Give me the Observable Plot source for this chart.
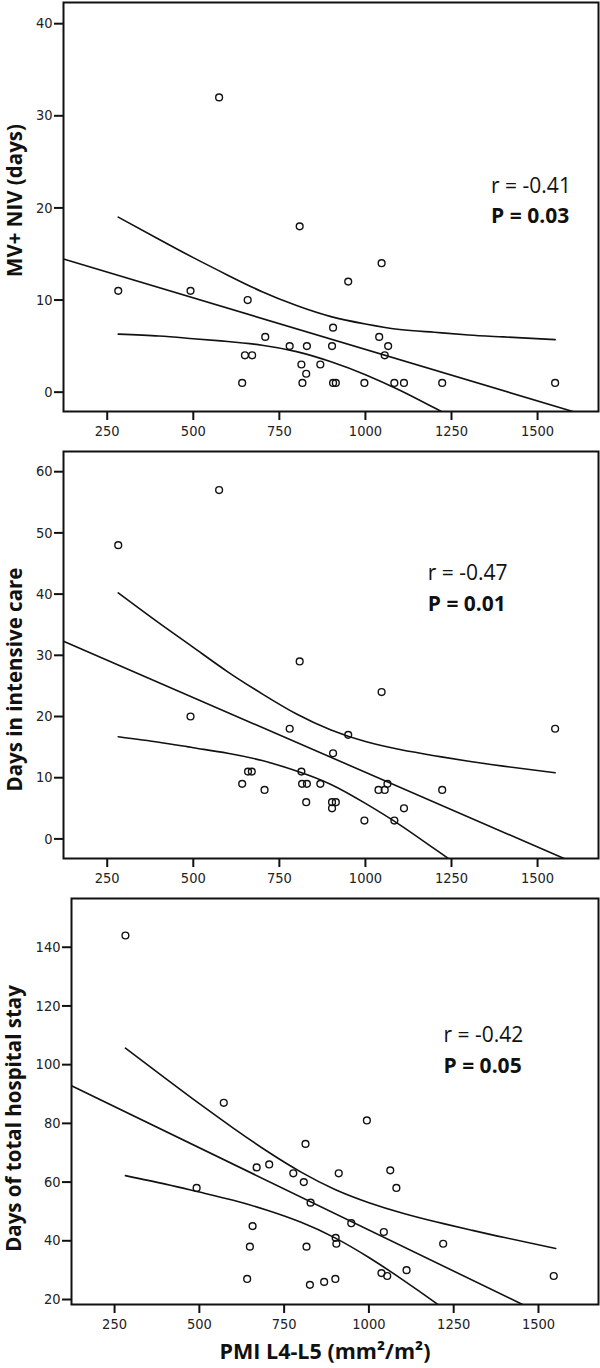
<!DOCTYPE html>
<html>
<head>
<meta charset="utf-8">
<script src="https://cdn.jsdelivr.net/npm/d3@7"></script>
<script src="https://cdn.jsdelivr.net/npm/@observablehq/plot@0.6"></script>
<style>
  html, body { margin: 0; padding: 0; background: #fff; }
  #chart svg { display: block; }
</style>
</head>
<body>
<div id="chart"></div>
<script>
// ---- shared ----
const xTicks = [250, 500, 750, 1000, 1250, 1500];
const ciX = [282, 400, 500, 600, 700, 800, 900, 1000, 1100, 1200, 1300, 1400, 1551];

// ---- Panel 1: MV + NIV (days) ----
const mvX = [282, 492, 575, 658, 709, 780, 650, 671, 642, 809, 1047, 950, 906, 1040, 830, 903, 1066, 1056, 814, 869, 828, 817, 906, 914, 997, 1084, 1112, 1223, 1551];
const mvY = [11, 11, 32, 10, 6, 5, 4, 4, 1, 18, 14, 12, 7, 6, 5, 5, 5, 4, 3, 3, 2, 1, 1, 1, 1, 1, 1, 1, 1];
const mvFitX = [123, 1605];
const mvFitY = [14.45, -2.13];
const mvUpper = [19.0, 16.6, 14.6, 12.7, 10.9, 9.4, 8.2, 7.4, 6.8, 6.5, 6.2, 6.0, 5.7];
const mvLower = [6.3, 6.1, 5.8, 5.5, 5.1, 4.4, 3.3, 1.9, 0.2, -1.7, -3.6];
const mvTicks = [0, 10, 20, 30, 40];

// ---- Panel 2: Days in intensive care ----
const icuX = [282, 575, 492, 780, 809, 659, 670, 642, 707, 1047, 950, 906, 814, 816, 830, 869, 1064, 1038, 1056, 1223, 828, 903, 914, 903, 1112, 997, 1084, 1551];
const icuY = [48, 57, 20, 18, 29, 11, 11, 9, 8, 24, 17, 14, 11, 9, 9, 9, 9, 8, 8, 8, 6, 6, 6, 5, 5, 3, 3, 18];
const icuFitX = [123, 1577];
const icuFitY = [32.3, -3.2];
const icuUpper = [40.2, 35.3, 31.3, 27.3, 23.7, 20.4, 17.8, 15.9, 14.6, 13.6, 12.7, 11.9, 10.8];
const icuLower = [16.7, 15.8, 14.9, 14.0, 12.8, 11.1, 8.9, 5.8, 2.3, -1.6, -5.5];
const icuTicks = [0, 10, 20, 30, 40, 50, 60];

// ---- Panel 3: Days of total hospital stay ----
const hospX = [282, 572, 492, 669, 706, 777, 657, 649, 641, 813, 994, 808, 911, 1063, 1081, 828, 948, 1044, 902, 904, 816, 1219, 1111, 1037, 1054, 826, 868, 901, 1545];
const hospY = [144, 87, 58, 65, 66, 63, 45, 38, 27, 73, 81, 60, 63, 64, 58, 53, 46, 43, 41, 39, 38, 39, 30, 29, 28, 25, 26, 27, 28];
const hospFitX = [123, 1453];
const hospFitY = [92.8, 18.3];
const hospUpper = [105.6, 95.3, 86.7, 78.4, 70.5, 63.4, 57.5, 53.0, 49.4, 46.4, 43.7, 41.1, 37.4];
const hospLower = [62.2, 59.3, 56.6, 53.8, 50.4, 46.3, 41.0, 34.3, 26.7, 18.6, 10.1];
const hospTicks = [20, 40, 60, 80, 100, 120, 140];

// ---- texts ----
const yTitles = ["MV+ NIV (days)", "Days in intensive care", "Days of total hospital stay"];
const rTexts = ["r = -0.41", "r = -0.47", "r = -0.42"];
const pTexts = ["P = 0.03", "P = 0.01", "P = 0.05"];
const xTitle = "PMI L4-L5 (mm²/m²)";

const tickFont = "'DejaVu Sans Condensed', 'Liberation Sans Narrow', sans-serif";
const textFont = "'Open Sans', 'Noto Sans', sans-serif";
const ink = "#111";
const fmt = d3.format("d");

function zip(xs, ys) { return ys.map((y, i) => ({x: xs[i], y})); }

function panel(o) {
  const marks = [
    Plot.axisX({ticks: xTicks, tickFormat: fmt, tickSize: 9, tickPadding: 5, strokeWidth: 2, stroke: ink, fill: "#222", fontSize: 14.5, fontFamily: tickFont, label: null}),
    Plot.axisY({ticks: o.yTicks, tickFormat: fmt, tickSize: 9, tickPadding: 2, strokeWidth: 2, stroke: ink, fill: "#222", fontSize: 14.5, fontFamily: tickFont, label: null}),
    Plot.line(zip(o.fitX, o.fitY), {x: "x", y: "y", stroke: ink, strokeWidth: 1.6, clip: true}),
    Plot.line(zip(ciX, o.upper), {x: "x", y: "y", stroke: ink, strokeWidth: 1.6, curve: "natural", clip: true}),
    Plot.line(zip(ciX, o.lower), {x: "x", y: "y", stroke: ink, strokeWidth: 1.6, curve: "natural", clip: true}),
    Plot.dot(zip(o.xs, o.ys), {x: "x", y: "y", r: 3.4, stroke: ink, strokeWidth: 1.4, fill: "none"}),
    Plot.text([o.rText], {x: o.rx, y: o.ry, text: d => d, textAnchor: "start", lineAnchor: "bottom", fontSize: 21, fontFamily: textFont, fill: ink}),
    Plot.text([o.pText], {x: o.rx, y: o.py, text: d => d, textAnchor: "start", lineAnchor: "bottom", fontSize: 21, fontWeight: "bold", fontFamily: textFont, fill: ink}),
    Plot.text([o.yTitle], {frameAnchor: "left", text: d => d, textAnchor: "middle", lineAnchor: "middle", rotate: -90, dx: o.tdx, dy: o.tdy, fontSize: 20.5, fontWeight: "bold", fontFamily: textFont, fill: ink}),
    Plot.frame({stroke: ink, strokeWidth: 2})
  ];
  if (o.xTitle) {
    marks.push(Plot.text([o.xTitle], {frameAnchor: "bottom", text: d => d, textAnchor: "middle", lineAnchor: "middle", dx: -10, dy: 48, fontSize: 21.5, fontWeight: "bold", fontFamily: textFont, fill: ink}));
  }
  return Plot.plot({
    width: 600,
    height: o.height,
    marginLeft: o.ml,
    marginRight: 2,
    marginTop: o.mt,
    marginBottom: o.mb,
    x: {domain: [123, 1677]},
    y: {domain: o.yDomain},
    style: {background: "#fff", color: ink, fontFamily: tickFont, overflow: "visible"},
    marks
  });
}

const chart = document.getElementById("chart");
chart.append(panel({
  height: 441, ml: 63, mt: 2, mb: 30, yDomain: [-2.1, 42.3], yTicks: mvTicks,
  xs: mvX, ys: mvY, fitX: mvFitX, fitY: mvFitY, upper: mvUpper, lower: mvLower,
  rText: rTexts[0], pText: pTexts[0], rx: 1365, ry: 21.6, py: 18.35,
  yTitle: yTitles[0], tdx: -48.5, tdy: -6.5
}));
chart.append(panel({
  height: 447, ml: 63, mt: 10, mb: 30, yDomain: [-3.2, 63.3], yTicks: icuTicks,
  xs: icuX, ys: icuY, fitX: icuFitX, fitY: icuFitY, upper: icuUpper, lower: icuLower,
  rText: rTexts[1], pText: pTexts[1], rx: 1181, ry: 42.3, py: 37.3,
  yTitle: yTitles[1], tdx: -48.5, tdy: 24.5
}));
chart.append(panel({
  height: 480, ml: 71, mt: 10, mb: 64, yDomain: [18.3, 156.6], yTicks: hospTicks,
  xs: hospX, ys: hospY, fitX: hospFitX, fitY: hospFitY, upper: hospUpper, lower: hospLower,
  rText: rTexts[2], pText: pTexts[2], rx: 1220, ry: 107.6, py: 97.3,
  yTitle: yTitles[2], tdx: -57, tdy: 17, xTitle
}));
</script>
</body>
</html>
